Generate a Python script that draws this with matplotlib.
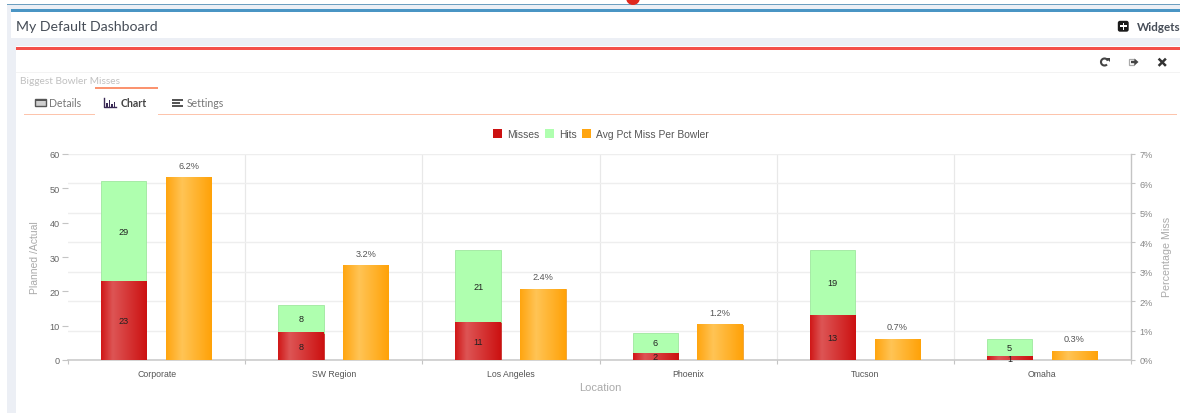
import numpy as np
import matplotlib
matplotlib.use("Agg")
import matplotlib.pyplot as plt
from matplotlib.colors import LinearSegmentedColormap
from matplotlib.patches import Rectangle, Circle, Polygon, FancyBboxPatch, Arc

locations = ["Corporate", "SW Region", "Los Angeles", "Phoenix", "Tucson", "Omaha"]
misses = [23, 8, 11, 2, 13, 1]
hits = [29, 8, 21, 6, 19, 5]
avg_pct = [6.2, 3.2, 2.4, 1.2, 0.7, 0.3]
left_ticks = [0, 10, 20, 30, 40, 50, 60]
right_ticks = [0, 1, 2, 3, 4, 5, 6, 7]

W, H = 1180, 414
fig = plt.figure(figsize=(W / 100, H / 100), dpi=100, facecolor="white")

# ---- page chrome in pixel coordinates
bg = fig.add_axes([0, 0, 1, 1])
bg.set_xlim(0, W); bg.set_ylim(H, 0); bg.axis("off")
def rect(x, y, w, h, c, z=1):
    bg.add_patch(Rectangle((x, y), w, h, fc=c, ec="none", zorder=z))
rect(7, 5, W - 7, 409, "#eceff5")
rect(7, 5, W - 7, 1, "#6d9fc0", 2)
rect(11, 10, W - 11, 3, "#4a95c4", 2)
rect(11, 13, W - 11, 26, "white", 2)
rect(16, 47, W - 16, 367, "white", 2)
rect(16, 48, W - 16, 2.5, "#f4504a", 3)
rect(16, 73, W - 16, 0.7, "#f3f3f3", 3)
rect(24, 114.5, 71, 1.2, "#fdc4ac", 3)
rect(158, 114.5, 1019, 1.2, "#fdc4ac", 3)
rect(95, 87.5, 63, 2, "#fb9470", 3)
bg.add_patch(Circle((633, -1), 7, fc="#e0281e", ec="none", zorder=4, clip_on=True))

sans = ["Lato", "DejaVu Sans"]
bg.text(16, 27, "My Default Dashboard", fontsize=10.15, color="#474e58", family=sans, va="center", zorder=5)
bg.text(1137, 27.5, "Widgets", fontsize=8.4, color="#474e58", family=sans, weight="bold", va="center", zorder=5)
bg.text(20, 81, "Biggest Bowler Misses", fontsize=7.3, color="#c0c0c0", family=sans, va="center", zorder=5)
bg.text(49, 103.5, "Details", fontsize=7.6, color="#777777", family=sans, va="center", zorder=5)
bg.text(121, 103.5, "Chart", fontsize=7.6, color="#444444", family=sans, weight="bold", va="center", zorder=5)
bg.text(187, 103.5, "Settings", fontsize=7.6, color="#777777", family=sans, va="center", zorder=5)

# icons
bg.add_patch(FancyBboxPatch((1118.5, 22.5), 9.5, 9.5, boxstyle="round,pad=0,rounding_size=1.5", fc="#1a1a1a", ec="#1a1a1a", lw=1, zorder=5))
rect(1122.5, 24, 1.8, 6.5, "white", 6); rect(1120.2, 26.3, 6.5, 1.8, "white", 6)
bg.add_patch(Rectangle((34.5, 99.5), 11, 7.5, fc="#cfcfcf", ec="#555555", lw=1, zorder=5))
rect(34.5, 100.5, 11, 1.5, "#555555", 6)
bg.plot([104, 104, 116], [99, 108, 108], color="#3a2a55", lw=1, zorder=5)
for bx, bh_ in zip([106, 108.5, 111, 113.5], [4, 7, 3, 5]):
    rect(bx, 107.5 - bh_, 1.6, bh_, "#3a2a55", 5)
for yy, ww in zip([99.5, 102.5, 105.5], [11, 8, 11]):
    rect(172, yy, ww, 2, "#555555", 5)
bg.add_patch(Arc((1104.5, 63), 7, 7, theta1=45, theta2=340, ec="#444444", lw=1.5, zorder=5))
bg.add_patch(Polygon([[1106, 58.5], [1110, 58.5], [1110, 62.5]], fc="#444444", ec="none", zorder=5))
bg.add_patch(Rectangle((1128.5, 60), 5, 6, fc="none", ec="#aaaaaa", lw=0.9, zorder=5))
bg.add_patch(Polygon([[1131, 61.8], [1134.5, 61.8], [1134.5, 59.5], [1138.5, 63], [1134.5, 66.5], [1134.5, 64.2], [1131, 64.2]], fc="#444444", ec="none", zorder=6))
bg.plot([1159.5, 1165], [60.5, 66], color="#333333", lw=1.8, zorder=5)
bg.plot([1159.5, 1165], [66, 60.5], color="#333333", lw=1.8, zorder=5)

# ---- chart
L, R, T, B = 68, 1131, 155, 361
ax = fig.add_axes([L / W, 1 - B / H, (R - L) / W, (B - T) / H], facecolor="none")
ax2 = ax.twinx()
ax.set_zorder(3); ax2.set_zorder(2)
ax2.patch.set_visible(False)

x = np.arange(len(locations))
w = 0.256
off = 0.183
RED, GREEN, ORANGE = "#cc1111", "#afffaf", "#ffa510"

bm = ax.bar(x - off - 0.002, misses, w, color=RED, edgecolor="#c9302c", lw=0.6, label="Misses", zorder=3)
bh = ax.bar(x - off - 0.002, hits, w, bottom=misses, color=GREEN, edgecolor="#9fe89f", lw=0.6, label="Hits", zorder=3)
ba = ax2.bar(x + off - 0.002, avg_pct, w, color=ORANGE, edgecolor="#f0a030", lw=0.6, label="Avg Pct Miss Per Bowler", zorder=3)

red_map = LinearSegmentedColormap.from_list("r", [(0, "#d01818"), (0.25, "#dd5555"), (1, "#cc1111")])
org_map = LinearSegmentedColormap.from_list("o", [(0, "#ffa510"), (0.35, "#ffc455"), (1, "#ffa208")])
grad = np.linspace(0, 1, 64).reshape(1, -1)
for axis, bars, cmap in ((ax, bm, red_map), (ax2, ba, org_map)):
    for b in bars:
        axis.imshow(grad, cmap=cmap, aspect="auto", zorder=3.1, interpolation="bilinear",
                    extent=(b.get_x(), b.get_x() + b.get_width(), b.get_y(), b.get_y() + b.get_height()))

ax.set_xlim(-0.5, len(locations) - 0.5)
ax.set_ylim(0, 60)
ax2.set_ylim(0, 7)
ax.set_yticks(left_ticks)
ax2.set_yticks(right_ticks)
ax2.set_yticklabels([f"{t}%" for t in right_ticks])
ax.set_xticks(x)
ax.set_xticklabels(locations)
ax.set_xticks(np.arange(len(locations) + 1) - 0.5, minor=True)

ax.set_axisbelow(True)
ax2.set_axisbelow(True)
ax2.yaxis.grid(True, color="#eeeeee", lw=1, zorder=0)
ax2.xaxis.grid(False)
ax.grid(False)
ax2.vlines(np.arange(1, len(locations)) - 0.5, 0, 7, color="#e8e8e8", lw=0.9, zorder=0)
ax2.set_xlim(-0.5, len(locations) - 0.5)

for a in (ax, ax2):
    for s in a.spines.values():
        s.set_visible(False)
ax2.spines["bottom"].set_visible(True); ax2.spines["bottom"].set_color("#cccccc"); ax2.spines["bottom"].set_linewidth(1.2)
ax2.spines["left"].set_visible(False)
ax2.spines["right"].set_visible(True); ax2.spines["right"].set_color("#c4c4c4"); ax2.spines["right"].set_linewidth(1)
ax2.spines["right"].set_zorder(1)

chart_font = "Liberation Sans"
ax.tick_params(axis="y", length=4, width=0.8, color="#c4c4c4", pad=2, labelsize=6.6, labelcolor="#666666")
ax2.tick_params(axis="y", length=3, width=0.8, color="#c4c4c4", pad=3, labelsize=6.6, labelcolor="#888888")
ax.tick_params(axis="x", which="major", length=0, pad=6.5, labelsize=6.3, labelcolor="#555555")
ax.tick_params(axis="x", which="minor", length=3, width=0.8, color="#c4c4c4")
for lab in ax.get_yticklabels() + ax2.get_yticklabels() + ax.get_xticklabels():
    lab.set_family(chart_font)

lbl = dict(ha="center", va="center", fontsize=6.6, family=chart_font, color="#222222", zorder=6)
for i in x:
    ax.text(i - off - 0.002, misses[i] / 2, str(misses[i]), **lbl)
    ax.text(i - off - 0.002, misses[i] + hits[i] / 2, str(hits[i]), **lbl)
    ax2.annotate(f"{avg_pct[i]}%", (i + off - 0.002, avg_pct[i]), xytext=(0, 9), textcoords="offset points",
                 ha="center", va="center", fontsize=6.6, family=chart_font, color="#555555", zorder=6)

bg.text(34.5, 258, "Planned /Actual", rotation=90, ha="center", va="center", fontsize=7.5, color="#aaaaaa", family=chart_font, zorder=5)
bg.text(1166.5, 257, "Percentage Miss", rotation=90, ha="center", va="center", fontsize=7.7, color="#aaaaaa", family=chart_font, zorder=5)
bg.text(600, 388, "Location", ha="center", va="center", fontsize=8, color="#aaaaaa", family=chart_font, zorder=5)

leg = fig.legend(handles=[bm, bh, ba], ncol=3, loc="center", bbox_to_anchor=(601 / W, 1 - 135 / H),
                 frameon=False, prop={"family": chart_font, "size": 7.4},
                 handlelength=0.85, handleheight=0.85, handletextpad=0.5, columnspacing=0.55, borderpad=0)
for t in leg.get_texts():
    t.set_color("#555555")
for h in leg.legend_handles:
    h.set_linewidth(0)

fig.savefig("out.png", dpi=100)
